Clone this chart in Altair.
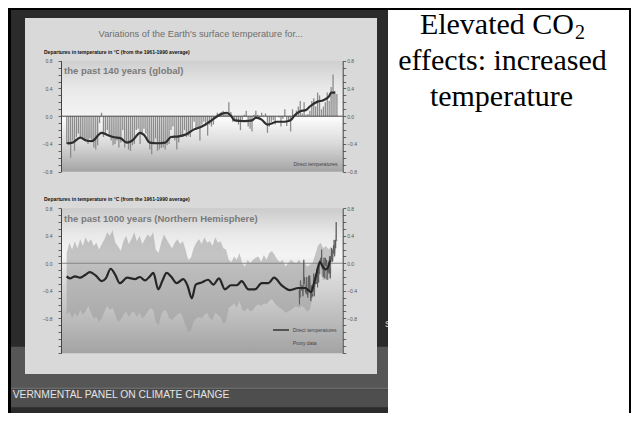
import altair as alt
import pandas as pd

W, H = 623, 405

# ---------------- data ----------------
# upper panel: global annual anomalies 1860-2000 (deg C, vs 1961-1990)
upper_years = list(range(1860, 2001))
upper_values = [
    -0.40, -0.42, -0.60, -0.35, -0.50, -0.30, -0.25, -0.30, -0.32, -0.33,
    -0.36, -0.40, -0.32, -0.35, -0.45, -0.48, -0.42, -0.10, 0.05, -0.30,
    -0.27, -0.20, -0.28, -0.35, -0.42, -0.40, -0.35, -0.45, -0.38, -0.20,
    -0.45, -0.38, -0.48, -0.50, -0.42, -0.40, -0.20, -0.18, -0.40, -0.25,
    -0.18, -0.25, -0.38, -0.48, -0.55, -0.40, -0.32, -0.50, -0.48, -0.46,
    -0.45, -0.48, -0.42, -0.40, -0.20, -0.15, -0.35, -0.48, -0.38, -0.28,
    -0.30, -0.20, -0.30, -0.28, -0.30, -0.20, -0.08, -0.20, -0.18, -0.35,
    -0.12, -0.08, -0.14, -0.28, -0.12, -0.15, -0.12, 0.00, 0.05, 0.02,
    0.06, 0.08, 0.04, 0.03, 0.20, 0.06, -0.08, -0.06, -0.08, -0.12,
    -0.20, -0.05, 0.02, 0.08, -0.15, -0.18, -0.22, 0.02, 0.08, 0.02,
    -0.04, 0.05, 0.01, 0.04, -0.24, -0.15, -0.08, -0.06, -0.12, 0.00,
    -0.02, -0.15, -0.04, 0.10, -0.14, -0.08, -0.22, 0.10, 0.02, 0.08,
    0.14, 0.22, 0.04, 0.20, 0.02, 0.03, 0.08, 0.22, 0.26, 0.14,
    0.34, 0.30, 0.10, 0.14, 0.20, 0.34, 0.22, 0.42, 0.60, 0.36,
    0.32,
]
upper_smooth_years = [1860, 1863, 1867, 1870, 1873, 1878, 1881, 1884, 1888, 1891,
                      1894, 1898, 1900, 1903, 1907, 1911, 1914, 1918, 1922, 1926,
                      1930, 1934, 1938, 1940, 1943, 1945, 1947, 1952, 1956, 1958,
                      1961, 1964, 1969, 1973, 1976, 1978, 1981, 1984, 1986, 1990,
                      1993, 1996, 1997, 1999]
upper_smooth_values = [-0.39, -0.38, -0.31, -0.35, -0.36, -0.24, -0.27, -0.30, -0.32, -0.38,
                       -0.35, -0.24, -0.27, -0.38, -0.39, -0.38, -0.30, -0.29, -0.26, -0.19,
                       -0.15, -0.08, 0.00, 0.03, 0.05, 0.01, -0.06, -0.07, -0.06, -0.02,
                       -0.05, -0.12, -0.08, -0.08, -0.06, 0.01, 0.07, 0.09, 0.14, 0.21,
                       0.23, 0.29, 0.34, 0.34]

# lower panel: northern hemisphere proxy band (decadal) and smoothed curve
band_years = list(range(1000, 1990, 10))
band_high = [
    0.15, 0.30, 0.20, 0.32, 0.22, 0.35, 0.25, 0.38, 0.30, 0.35,
    0.25, 0.30, 0.20, 0.28, 0.35, 0.45, 0.40, 0.48, 0.30, 0.25,
    0.18, 0.32, 0.40, 0.28, 0.35, 0.45, 0.32, 0.40, 0.28, 0.35,
    0.42, 0.38, 0.45, 0.20, 0.15, 0.30, 0.42, 0.35, 0.28, 0.22,
    0.30, 0.35, 0.28, 0.32, 0.20, 0.05, 0.08, 0.22, 0.30, 0.35,
    0.28, 0.38, 0.30, 0.32, 0.25, 0.38, 0.30, 0.32, 0.22, 0.20,
    0.05, 0.02, 0.10, 0.05, 0.15, 0.00, -0.05, 0.05, 0.00, 0.05,
    0.08, 0.10, 0.02, 0.12, 0.05, 0.15, 0.18, 0.12, 0.05, 0.02,
    0.05, -0.05, 0.00, 0.05, 0.02, 0.00, 0.05, 0.00, 0.02, -0.05,
    -0.02, 0.00, 0.12, 0.25, 0.30, 0.22, 0.25, 0.20, 0.25,
]
band_low = [
    -0.75, -0.70, -0.80, -0.72, -0.78, -0.68, -0.75, -0.70, -0.62, -0.72,
    -0.80, -0.78, -0.85, -0.80, -0.70, -0.62, -0.68, -0.65, -0.75, -0.85,
    -0.82, -0.75, -0.70, -0.78, -0.72, -0.70, -0.78, -0.72, -0.80, -0.76,
    -0.70, -0.65, -0.68, -0.85, -0.90, -0.75, -0.68, -0.70, -0.80, -0.82,
    -0.78, -0.75, -0.72, -0.78, -0.90, -1.00, -0.98, -0.85, -0.80, -0.78,
    -0.80, -0.75, -0.72, -0.80, -0.82, -0.72, -0.75, -0.78, -0.88, -0.85,
    -0.65, -0.62, -0.58, -0.65, -0.55, -0.68, -0.70, -0.65, -0.70, -0.68,
    -0.62, -0.60, -0.62, -0.58, -0.60, -0.55, -0.52, -0.58, -0.62, -0.65,
    -0.68, -0.72, -0.70, -0.68, -0.65, -0.62, -0.65, -0.62, -0.65, -0.70,
    -0.68, -0.50, -0.35, -0.20, -0.15, -0.25, -0.22, -0.25, -0.15,
]
lower_smooth_years = [1000, 1012, 1031, 1049, 1068, 1086, 1108, 1130, 1145, 1163,
                      1180, 1197, 1224, 1253, 1271, 1290, 1308, 1321, 1339, 1355,
                      1370, 1388, 1407, 1432, 1448, 1463, 1478, 1500, 1524, 1543,
                      1564, 1586, 1608, 1630, 1648, 1673, 1697, 1722, 1747, 1768,
                      1796, 1827, 1858, 1883, 1905, 1915, 1925, 1938, 1948, 1958,
                      1966, 1975]
lower_smooth_values = [-0.19, -0.22, -0.19, -0.21, -0.17, -0.13, -0.18, -0.26, -0.22, -0.08,
                       -0.17, -0.29, -0.21, -0.23, -0.20, -0.25, -0.19, -0.14, -0.38, -0.25,
                       -0.14, -0.20, -0.29, -0.23, -0.33, -0.51, -0.31, -0.28, -0.24, -0.31,
                       -0.22, -0.38, -0.32, -0.32, -0.26, -0.38, -0.38, -0.29, -0.29, -0.21,
                       -0.32, -0.39, -0.36, -0.36, -0.42, -0.30, -0.15, 0.02, -0.05, -0.09,
                       -0.07, 0.04]

# axis ticks
upper_x_ticks = [1860, 1870, 1880, 1890, 1900, 1910, 1920, 1930, 1940, 1950,
                 1960, 1970, 1980, 1990, 2000]
lower_x_ticks = [1000, 1050, 1100, 1150, 1200, 1250, 1300, 1350, 1400, 1450, 1500,
                 1550, 1600, 1650, 1700, 1750, 1800, 1850, 1900, 1950, 2000]
upper_y_ticks = [-0.8, -0.7, -0.6, -0.5, -0.4, -0.3, -0.2, -0.1, 0.0,
                 0.1, 0.2, 0.3, 0.4, 0.5, 0.6, 0.7, 0.8]
lower_y_ticks = [-1.3, -1.2, -1.1, -1.0, -0.9, -0.8, -0.7, -0.6, -0.5, -0.4, -0.3,
                 -0.2, -0.1, 0.0, 0.1, 0.2, 0.3, 0.4, 0.5, 0.6, 0.7, 0.8]

# texts
title_text = "Variations of the Earth's surface temperature for..."
ylabel_text = "Departures in temperature in \u00b0C (from the 1961-1990 average)"
upper_label = "the past 140 years (global)"
lower_label = "the past 1000 years (Northern Hemisphere)"
slide_lines = ["effects: increased", "temperature"]

# ---------------- helpers ----------------
ONE = alt.Data(values=[{"k": 0}])
SANS = "Liberation Sans"
SERIF = "Liberation Serif"


def box(x, x2, y, y2, color):
    return alt.Chart(ONE).mark_rect(color=color).encode(
        x=alt.value(x), x2=alt.value(x2), y=alt.value(y), y2=alt.value(y2))


def grad_box(x, x2, y, y2, stops):
    g = alt.LinearGradient(gradient="linear", x1=0, x2=0, y1=0, y2=1,
                           stops=[alt.GradientStop(color=c, offset=o) for o, c in stops])
    return alt.Chart(ONE).mark_rect(color=g).encode(
        x=alt.value(x), x2=alt.value(x2), y=alt.value(y), y2=alt.value(y2))


def label(text, x, y, size, color, align="left", weight="normal", font=SANS, baseline="alphabetic"):
    return alt.Chart(ONE).mark_text(text=text, align=align, baseline=baseline, fontSize=size,
                                    color=color, fontWeight=weight, font=font).encode(
        x=alt.value(x), y=alt.value(y))


def seg(x, x2, y, color, width):
    return alt.Chart(ONE).mark_rule(color=color, strokeWidth=width).encode(
        x=alt.value(x), x2=alt.value(x2), y=alt.value(y))


AX = dict(title=None, grid=False, domainColor="#444444", tickColor="#444444", tickSize=3,
          tickWidth=0.8, domainWidth=1, labelFont=SANS, labelFontSize=5, labelColor="#555555",
          labelFlush=False, labelOverlap=False, zindex=1)
YLAB = "datum.value > -0.85 && round(datum.value * 10) % 4 == 0 ? format(datum.value, '.1f') : ''"

PX0, PX1 = 53, 334.7          # plot left / right
U_TOP, U_BOT = 52.7, 163.7    # upper plot
L_TOP, L_BOT = 200.3, 345.3   # lower plot

# ---------------- upper plot ----------------
ux = alt.Scale(domain=[1857, 2003], range=[PX0, PX1])
uy = alt.Scale(domain=[-0.8, 0.8], range=[U_BOT, U_TOP])
udf = pd.DataFrame({"year": upper_years, "v": upper_values})
usm = pd.DataFrame({"year": upper_smooth_years, "v": upper_smooth_values})

u_bg = grad_box(PX0, PX1, U_TOP, U_BOT, [(0, "#cfcfcf"), (0.25, "#e9e9e9"), (0.5, "#f3f3f3"),
                                          (0.52, "#fbfbfb"), (0.75, "#d9d9d9"), (1, "#a4a4a4")])
u_bars = alt.Chart(udf).mark_rule(strokeWidth=1.3, color="#8c8c8c").encode(
    x=alt.X("year:Q", scale=ux, axis=alt.Axis(
        orient="bottom", offset=U_BOT - H, values=upper_x_ticks, labelPadding=1,
        labelExpr="datum.value % 20 == 0 ? format(datum.value, 'd') : ''", **AX)),
    y=alt.Y("v:Q", scale=uy, axis=alt.Axis(orient="left", offset=-PX0, values=upper_y_ticks,
                                          labelExpr=YLAB, labelPadding=6, **AX)),
    y2=alt.datum(0),
)
u_zero = alt.Chart(ONE).mark_rule(color="#4a4a4a", strokeWidth=1).encode(
    x=alt.value(PX0), x2=alt.value(PX1), y=alt.Y(datum=0, scale=uy, axis=None))
u_line = alt.Chart(usm).mark_line(color="#2e2e2e", strokeWidth=2.2, interpolate="monotone").encode(
    x=alt.X("year:Q", scale=ux, axis=None),
    y=alt.Y("v:Q", scale=uy, axis=alt.Axis(orient="right", offset=PX1 - W, values=upper_y_ticks,
                                          labelExpr=YLAB, labelPadding=1, **AX)),
)
upper = alt.layer(u_bg, u_bars, u_zero, u_line)

# ---------------- lower plot ----------------
lx = alt.Scale(domain=[979, 2022], range=[PX0, PX1])
ly = alt.Scale(domain=[-1.31, 0.8], range=[L_BOT, L_TOP])
bdf = pd.DataFrame({"year": band_years, "hi": band_high, "lo": band_low})
lsm = pd.DataFrame({"year": lower_smooth_years, "v": lower_smooth_values})

l_bg = grad_box(PX0, PX1, L_TOP, L_BOT, [(0, "#cbcbcb"), (0.18, "#e9e9e9"), (0.33, "#f4f4f4"),
                                          (0.45, "#dedede"), (0.7, "#c3c3c3"), (1, "#a3a3a3")])
l_band = alt.Chart(bdf).mark_area(color="#9c9c9c", opacity=0.55).encode(
    x=alt.X("year:Q", scale=lx, axis=alt.Axis(
        orient="bottom", offset=L_BOT - H, values=lower_x_ticks, labelPadding=1,
        labelExpr="datum.value % 200 == 0 ? format(datum.value, 'd') : ''", **AX)),
    y=alt.Y("lo:Q", scale=ly, axis=alt.Axis(orient="left", offset=-PX0, values=lower_y_ticks,
                                           labelExpr=YLAB, labelPadding=6, **AX)),
    y2="hi:Q",
)
l_zero = alt.Chart(ONE).mark_rule(color="#858585", strokeWidth=1).encode(
    x=alt.value(PX0), x2=alt.value(PX1), y=alt.Y(datum=0, scale=ly, axis=None))
l_direct = alt.Chart(udf).mark_line(color="#575757", strokeWidth=0.8).encode(
    x=alt.X("year:Q", scale=lx, axis=None), y=alt.Y("v:Q", scale=ly, axis=None))
l_line = alt.Chart(lsm).mark_line(color="#262626", strokeWidth=2.2, interpolate="monotone").encode(
    x=alt.X("year:Q", scale=lx, axis=None),
    y=alt.Y("v:Q", scale=ly, axis=alt.Axis(orient="right", offset=PX1 - W, values=lower_y_ticks,
                                          labelExpr=YLAB, labelPadding=1, **AX)),
)
lower = alt.layer(l_bg, l_band, l_zero, l_direct, l_line)

# ---------------- slide decoration ----------------
decor = [
    box(0, 380, 0, H, "#2b2b2b"),
    box(0, 380, 338.7, 379.3, "#565656"),
    box(0, 380, 379.3, 381.3, "#6b6b6b"),
    box(0, 380, 381.3, 399.3, "#4e4e4e"),
    box(17, 369, 10, 366, "#d9d9d9"),
    label("S", 377, 319, 9, "#dddddd"),
    box(380, W, 0, H, "#ffffff"),
    box(0, 3, 0, H, "#000000"),
    box(0, W, 0, 2, "#000000"),
    box(W - 2, W, 0, H, "#000000"),
]

texts = [
    label(title_text, 192.7, 28.7, 9.3, "#6e6e6e", align="center"),
    label(ylabel_text, 36, 46, 5, "#111111", weight="bold"),
    label(ylabel_text, 36, 192.5, 5, "#111111", weight="bold"),
    label(upper_label, 56, 66.3, 9.5, "#7a7a7a", weight="bold"),
    label(lower_label, 56, 214.3, 9.5, "#7a7a7a", weight="bold"),
    label("Direct temperatures", 329.5, 158, 5, "#444444", align="right"),
    seg(265, 281, 322, "#333333", 1.5),
    label("Direct temperatures", 284.7, 323.5, 5, "#444444"),
    seg(265, 281, 334.7, "#a8a8a8", 1),
    label("Proxy data", 284.7, 337, 5, "#444444"),
    label("VERNMENTAL PANEL ON CLIMATE CHANGE", 4.7, 390, 10.3, "#e4e4e4"),
    label("Elevated CO", 566, 26.3, 30, "#000000", align="right", font=SERIF),
    label("2", 567, 30.5, 20, "#000000", font=SERIF),
    label(slide_lines[0], 494.5, 62, 30, "#000000", align="center", font=SERIF),
    label(slide_lines[1], 493.5, 98, 30, "#000000", align="center", font=SERIF),
]

chart = alt.layer(*decor, upper, lower, *texts).resolve_scale(
    x="independent", y="independent"
).properties(
    width=W, height=H, padding=0, background="#ffffff",
    autosize=alt.AutoSizeParams(type="none"),
).configure_view(strokeWidth=0)

chart.save("out.html", embed_options={"renderer": "svg", "actions": False})
